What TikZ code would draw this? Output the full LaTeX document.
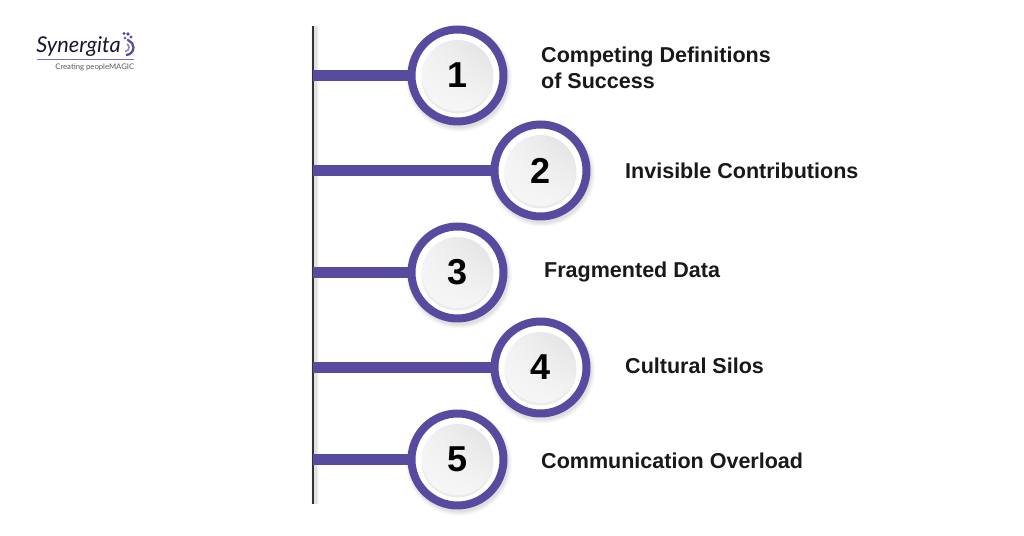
\documentclass[tikz,border=0pt]{standalone}
\usepackage{fontspec}
\setmainfont{Liberation Sans}
\setsansfont{Lato}
\usetikzlibrary{shadings}
\definecolor{ringpurple}{HTML}{574B9F}
\tikzset{
  ring/.style={circle, draw=ringpurple, line width=0.16cm, fill=white, minimum size=1.84cm, inner sep=0pt},
  numlabel/.style={font=\fontsize{20.5}{20}\selectfont\bfseries, text=black},
  itemlabel/.style={anchor=west, align=left, font=\fontsize{12.25}{14.8}\selectfont\bfseries, text=black!90},
  branch/.style={draw=ringpurple, line width=0.22cm}
}
\begin{document}
\begin{tikzpicture}[x=0.02cm, y=-0.02cm]
  \useasboundingbox (0, 0) rectangle (1024, 536);
  \fill [white] (0, 0) rectangle (1024, 536);

  % spine
  \coordinate (spinetop) at (313, 26);
  \coordinate (spinebot) at (313, 504);
  \foreach \w/\o in {0.16/0.03, 0.12/0.04, 0.08/0.05} {
    \draw [black, opacity=\o, line width=\w cm] ([xshift=0.03cm]spinetop) -- ([xshift=0.03cm]spinebot);
  }
  \draw [black!80, line width=0.035cm] (spinetop) -- (spinebot);

  % circles and branches
  \foreach \n/\x/\y in {1/457.5/75.5, 2/540.5/170.5, 3/457.5/272.5, 4/540.5/367.5, 5/457.5/459.5} {
    \foreach \r/\o in {53/0.03, 51.5/0.04, 50/0.05} {
      \fill [black, opacity=\o] (\x+1.5, \y+3) circle (\r);
    }
    \coordinate (s\n) at (313, \y);
    \node [ring] (c\n) at (\x, \y) {};
    \draw [branch] (s\n) -- (c\n.west);
    \fill [black!8] (\x, \y+2) circle (36);
    \shade [lower left=white!97!black, upper right=black!12, lower right=black!4, upper left=black!5]
      (\x, \y) circle (35.5);
    \node [numlabel] (n\n) at (\x, \y) {\n};
  }

  % labels
  \node [itemlabel] (t1) at (535, 68) {Competing Definitions\\of Success};
  \node [itemlabel] (t2) at (619, 171) {Invisible Contributions};
  \node [itemlabel] (t3) at (538, 272) {Fragmented Data};
  \node [itemlabel] (t4) at (619, 366) {Cultural Silos};
  \node [itemlabel] (t5) at (535, 461) {Communication Overload};

  % logo
  \node [font=\sffamily\itshape\fontsize{12.4}{12}\selectfont, text=black!70!ringpurple, anchor=west, inner sep=0pt] (logoname) at (36, 47) {Synergita};
  \draw [ringpurple!80, line width=0.02cm] (37, 59.5) -- (134, 59.5);
  \node [font=\sffamily\fontsize{4.4}{5}\selectfont, text=black!65, anchor=west, inner sep=0pt] (logotag) at (55, 67) {Creating peopleMAGIC};
  \draw [ringpurple, line width=0.045cm] (126, 55) arc [start angle=90, end angle=-70, radius=7.5];
  \draw [ringpurple!70, line width=0.03cm] (125, 51.5) arc [start angle=90, end angle=-60, radius=4];
  \foreach \px/\py/\pr in {124/33.5/1.7, 128/34/1.8, 131/37/1.7, 125/38/1.4, 128/40/1.4} {
    \fill [ringpurple] (\px, \py) circle (\pr);
  }
\end{tikzpicture}
\end{document}
